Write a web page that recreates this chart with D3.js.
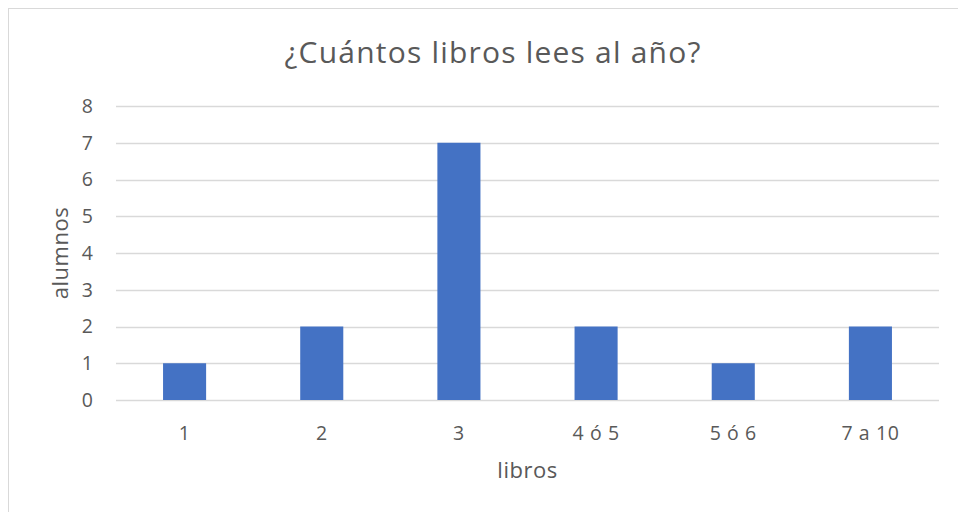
<!DOCTYPE html>
<html>
<head>
<meta charset="utf-8">
<script src="https://cdn.jsdelivr.net/npm/d3@7"></script>
<style>
  body { margin: 0; background: #fff; overflow: hidden; }
  text { font-family: "Open Sans", "Noto Sans", sans-serif; fill: #595959; }
</style>
</head>
<body>
<div id="wrapper"></div>
<script>
// data
const categories = ["1", "2", "3", "4 ó 5", "5 ó 6", "7 a 10"];
const values = [1, 2, 7, 2, 1, 2];
const yTicks = [0, 1, 2, 3, 4, 5, 6, 7, 8];

const width = 958;
const height = 512;
const margin = { top: 106, right: 19, bottom: 112, left: 116 };
const boundedWidth = width - margin.left - margin.right;
const boundedHeight = height - margin.top - margin.bottom;

const svg = d3.select("#wrapper")
  .append("svg")
    .attr("width", width)
    .attr("height", height)
    .style("display", "block");

// chart frame (runs off the right and bottom edges like the screenshot)
svg.append("rect")
  .attr("x", 8.5)
  .attr("y", 8.5)
  .attr("width", 970)
  .attr("height", 520)
  .attr("fill", "#fff")
  .attr("stroke", "#d9d9d9");

const bounds = svg.append("g")
  .attr("transform", `translate(${margin.left}, ${margin.top})`);

// scales
const xScale = d3.scaleBand()
  .domain(categories)
  .range([0, boundedWidth])
  .paddingInner(0.686)
  .paddingOuter(0.343);

const yScale = d3.scaleLinear()
  .domain([0, 8])
  .range([boundedHeight, 0]);

// gridlines
bounds.selectAll(".grid")
  .data(yTicks)
  .join("line")
    .attr("class", "grid")
    .attr("x1", 0)
    .attr("x2", boundedWidth)
    .attr("y1", d => Math.round(yScale(d)) + 0.5)
    .attr("y2", d => Math.round(yScale(d)) + 0.5)
    .attr("stroke", "#d9d9d9")
    .attr("stroke-width", 1.3);

// bars
bounds.selectAll(".bar")
  .data(values)
  .join("rect")
    .attr("class", "bar")
    .attr("x", (d, i) => xScale(categories[i]))
    .attr("y", d => yScale(d))
    .attr("width", xScale.bandwidth())
    .attr("height", d => boundedHeight - yScale(d))
    .attr("fill", "#4472c4");

// y axis labels
const yAxis = d3.axisLeft(yScale)
  .tickValues(yTicks)
  .tickSize(0)
  .tickPadding(23);
const yAxisGroup = bounds.append("g").call(yAxis);
yAxisGroup.select(".domain").remove();
yAxisGroup.selectAll("text")
  .attr("font-size", 19.5)
  .attr("font-family", null);

// x axis labels
const xAxis = d3.axisBottom(xScale)
  .tickSize(0)
  .tickPadding(26);
const xAxisGroup = bounds.append("g")
  .attr("transform", `translate(0, ${boundedHeight})`)
  .call(xAxis);
xAxisGroup.select(".domain").remove();
xAxisGroup.selectAll("text")
  .attr("font-size", 19.5)
  .attr("letter-spacing", 0.6)
  .attr("font-family", null)
  .attr("dy", null)
  .attr("y", 40);

// titles
svg.append("text")
  .attr("x", 493)
  .attr("y", 63)
  .attr("text-anchor", "middle")
  .attr("font-size", 30)
  .attr("letter-spacing", 1.2)
  .text("¿Cuántos libros lees al año?");

svg.append("text")
  .attr("x", margin.left + boundedWidth / 2)
  .attr("y", 478)
  .attr("text-anchor", "middle")
  .attr("font-size", 22)
  .attr("letter-spacing", 0.5)
  .text("libros");

svg.append("text")
  .attr("transform", `translate(68, 253) rotate(-90)`)
  .attr("text-anchor", "middle")
  .attr("font-size", 22)
  .attr("letter-spacing", 0.5)
  .text("alumnos");
</script>
</body>
</html>
